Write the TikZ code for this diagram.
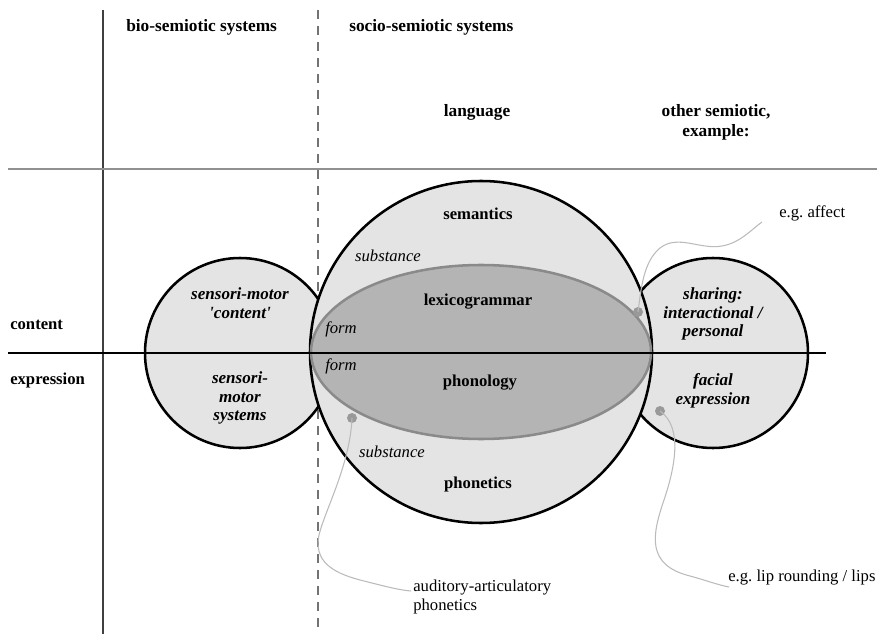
\documentclass[tikz,border=0pt]{standalone}
\usepackage{fontspec}
\setmainfont{Liberation Serif}[Ligatures=TeXOff]
\frenchspacing
\definecolor{lightfill}{HTML}{E4E4E4}
\definecolor{darkfill}{HTML}{B4B4B4}
\definecolor{ellline}{HTML}{8A8A8A}
\definecolor{dotgray}{HTML}{999999}
\definecolor{leadgray}{HTML}{BBBBBB}
\definecolor{rulegray}{HTML}{909090}
\begin{document}
\begin{tikzpicture}[x=0.75pt,y=-0.75pt,
  hdr/.style={font=\fontsize{13}{15}\selectfont\bfseries, inner sep=0pt, align=center},
  lbl/.style={font=\fontsize{12.5}{15}\selectfont\bfseries, inner sep=0pt},
  ital/.style={font=\fontsize{12.5}{15}\selectfont\itshape, inner sep=0pt},
  bital/.style={font=\fontsize{12.8}{14}\selectfont\bfseries\itshape, align=center, inner sep=0pt},
  note/.style={font=\fontsize{12.5}{14.5}\selectfont, inner sep=0pt, align=left},
  circ/.style={draw=black, line width=1.9pt, fill=lightfill},
  dotnode/.style={circle, fill=dotgray, inner sep=0pt, minimum size=7.5pt},
  lead/.style={draw=leadgray, line width=0.8pt}]
\useasboundingbox (0,0) rectangle (877,634);
% frame lines
\coordinate (vtop) at (103,10);
\coordinate (vbot) at (103,634);
\coordinate (dtop) at (318,10);
\coordinate (dbot) at (318,634);
\coordinate (gl) at (8,169);
\coordinate (gr) at (877,169);
\draw[line width=0.8pt, black!75] (vtop) -- (vbot);
\draw[line width=0.8pt, black!55, dash pattern=on 7pt off 5pt] (dtop) -- (dbot);
\draw[line width=1.6pt, rulegray] (gl) -- (gr);
% circles
\draw[circ] (240,353) circle [radius=95];
\draw[circ] (713,353) circle [radius=95];
\draw[circ] (481,352) circle [radius=171];
\draw[fill=darkfill, draw=ellline, line width=1.9pt] (481,352) ellipse [x radius=170, y radius=87];
% content / expression line
\coordinate (cl) at (8,353);
\coordinate (cr) at (826,353);
\draw[line width=1.2pt] (cl) -- (cr);
% headers
\node[hdr, anchor=west] (bio) at (126,27) {bio-semiotic systems};
\node[hdr, anchor=west] (socio) at (349,27) {socio-semiotic systems};
\node[hdr] (lang) at (477,112) {language};
\node[hdr] (other) at (716,122) {other semiotic,\\example:};
\node[lbl, anchor=west] (content) at (10,325) {content};
\node[lbl, anchor=west] (expr) at (10,380) {expression};
% big circle labels
\node[lbl] (sem) at (478,214) {semantics};
\node[ital] (sub1) at (388,256) {substance};
\node[lbl] (lex) at (478,302) {lexicogrammar};
\node[ital] (form1) at (341,329) {form};
\node[ital] (form2) at (341,366) {form};
\node[lbl] (phon) at (480,383) {phonology};
\node[ital] (sub2) at (392,452) {substance};
\node[lbl] (phnt) at (478,484) {phonetics};
% small circles labels
\node[bital] (smc) at (240,303) {sensori-motor\\'content'};
\node[bital] (sms) at (240,398) {sensori-\\motor\\systems};
\node[bital] (share) at (713,314) {sharing:\\interactional /\\personal};
\node[bital] (face) at (713,391) {facial\\expression};
% notes
\node[note, anchor=west] (affect) at (779,213) {e.g. affect};
\node[note, anchor=west] (lip) at (728,578) {e.g. lip rounding / lips};
\node[note, anchor=west] (aud) at (413,597) {auditory-articulatory\\phonetics};
% dots and leaders
\node[dotnode] (da) at (638,312) {};
\node[dotnode] (dl) at (660,411) {};
\node[dotnode] (dp) at (352,418) {};
\coordinate (ea) at (762,222);
\coordinate (el) at (729,587);
\coordinate (ep) at (411,591);
\draw[lead] (da.center) .. controls (641,290) and (643,262) .. (660,248)
  .. controls (678,234) and (700,250) .. (722,246)
  .. controls (740,243) and (752,229) .. (ea);
\draw[lead] (dl.center) .. controls (684,428) and (674,470) .. (664,500)
  .. controls (652,535) and (646,565) .. (690,576)
  .. controls (705,580) and (718,585) .. (el);
\draw[lead] (dp.center) .. controls (350,465) and (325,510) .. (319,535)
  .. controls (314,560) and (330,572) .. (360,580)
  .. controls (380,585) and (398,590) .. (ep);
\end{tikzpicture}
\end{document}
